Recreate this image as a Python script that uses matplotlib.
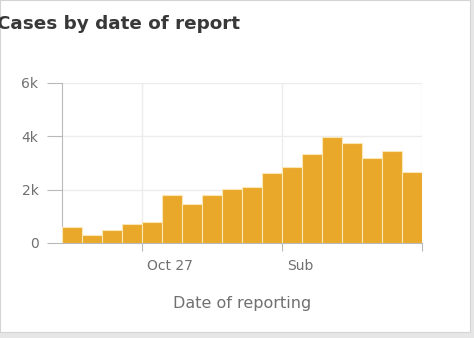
import numpy as np
import matplotlib.pyplot as plt
from matplotlib.patches import Rectangle
import matplotlib.transforms as mtransforms

# daily reported cases, one bar per day
cases = [615, 300, 490, 715, 780, 1810, 1470, 1810, 2025, 2090,
         2630, 2860, 3320, 3975, 3760, 3170, 3450, 2670]
day = np.arange(len(cases))

ytick_vals = [0, 2000, 4000, 6000]
ytick_text = ['0', '2k', '4k', '6k']
xtick_pos = [4, 11, 18]          # weekly gridlines (bar left edges)
xtick_text = ['Oct 27', 'Sub', '']

bar_col = '#E9A82A'
grid_col = '#ececec'
axis_col = '#b9b9b9'
text_col = '#707070'

plt.rcParams['font.family'] = ['DejaVu Sans']

fig = plt.figure(figsize=(4.74, 3.38), dpi=100)
fig.patch.set_facecolor('#e6e6e6')
# white card behind everything
card = Rectangle((0, 0.018), 0.992, 0.982, transform=fig.transFigure,
                 facecolor='white', edgecolor='#d4d4d4', lw=0.8, zorder=-10)
fig.add_artist(card)

ax = fig.add_axes([62/474, 1-243/338, 360/474, 160/338])
ax.set_zorder(5)
ax.set_facecolor('white')
ax.bar(day, cases, width=1.0, align='edge', color=bar_col,
       edgecolor='#fbe7b5', linewidth=0.8, zorder=3)

ax.set_xlim(0, len(cases))
ax.set_ylim(0, 6000)
ax.set_yticks(ytick_vals)
ax.set_yticklabels(ytick_text)
ax.set_xticks(xtick_pos)
ax.set_xticklabels([])

# date labels sit just right of their week line
trans = mtransforms.blended_transform_factory(ax.transData, ax.transAxes)
trans = trans + mtransforms.ScaledTranslation(5/100, -16/100, fig.dpi_scale_trans)
for pos, txt in zip(xtick_pos, xtick_text):
    ax.text(pos, 0, txt, transform=trans, ha='left', va='top',
            fontsize=10, color=text_col)

ax.grid(True, color=grid_col, lw=1.0, zorder=0)
for s in ['top', 'right']:
    ax.spines[s].set_visible(False)
ax.spines['left'].set_color(axis_col)
ax.spines['bottom'].set_color(axis_col)
ax.tick_params(axis='y', length=11, color=axis_col, labelcolor=text_col,
               labelsize=10, pad=6)
ax.tick_params(axis='x', length=6, color=axis_col)

ax.set_xlabel('Date of reporting', color=text_col, fontsize=11.5, labelpad=29)

fig.text(-0.006, 1-24/338, 'Cases by date of report', fontsize=13.2,
         fontweight='bold', color='#383838', va='center', ha='left')

fig.savefig('out.png', dpi=100, facecolor=fig.get_facecolor())
